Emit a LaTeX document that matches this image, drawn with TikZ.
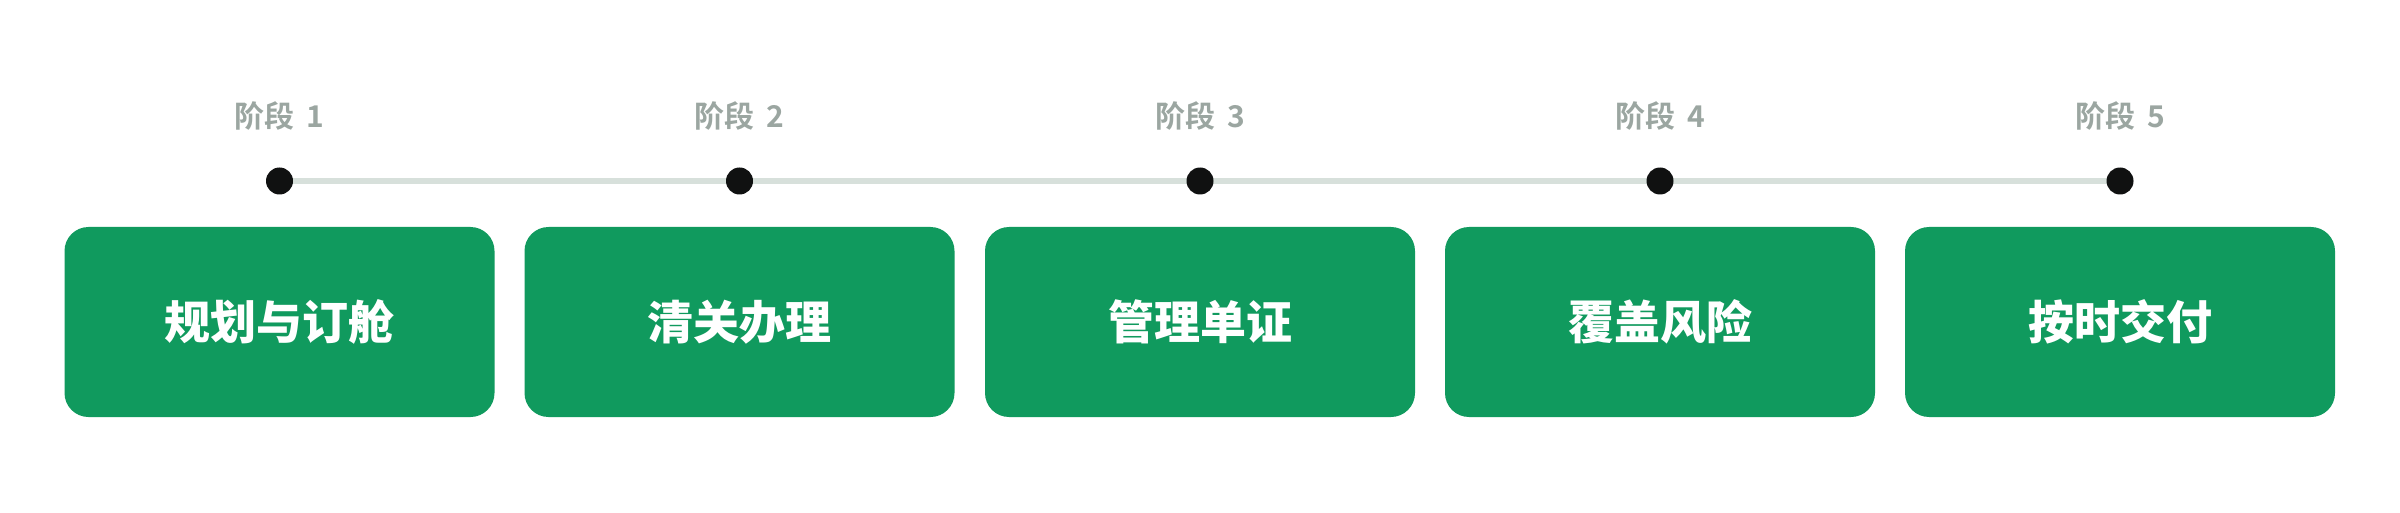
\documentclass[tikz,border=0pt]{standalone}
\usepackage{fontspec}
\newfontfamily\cjkb{Noto Sans CJK SC Black}
\newfontfamily\cjkl{Noto Sans CJK SC Bold}
\definecolor{boxgreen}{HTML}{109A5E}
\definecolor{dotblack}{HTML}{101111}
\definecolor{linegray}{HTML}{D7E0DB}
\definecolor{labelgray}{HTML}{9BA6A1}
\tikzset{
  stagebox/.style={fill=boxgreen, rounded corners=24pt, minimum width=430pt, minimum height=190pt, inner sep=0pt, text=white, font=\cjkb\fontsize{46}{50}\selectfont},
  stagedot/.style={circle, fill=dotblack, minimum size=27pt, inner sep=0pt},
  stagelabel/.style={text=labelgray, inner sep=0pt, font=\cjkl\fontsize{30}{34}\selectfont},
  timeline/.style={draw=linegray, line width=6pt}
}
\begin{document}
\begin{tikzpicture}[x=1pt,y=1pt]
\useasboundingbox (0,0) rectangle (2400,512);
\fill[white] (0,0) rectangle (2400,512);
\foreach \i/\x/\t in {1/279.5/规划与订舱, 2/739.5/清关办理, 3/1200/管理单证, 4/1660/覆盖风险, 5/2120/按时交付}{
  \coordinate (c\i) at (\x,331);
}
\draw[timeline] (c1) -- (c5);
\foreach \i/\x/\t in {1/279.5/规划与订舱, 2/739.5/清关办理, 3/1200/管理单证, 4/1660/覆盖风险, 5/2120/按时交付}{
  \node[stagedot] (d\i) at (c\i) {};
  \node[stagelabel] (l\i) at (\x,396) {阶段\hspace{0.4em}\i};
  \node[stagebox] (b\i) at (\x,190) {\t};
}
\end{tikzpicture}
\end{document}
